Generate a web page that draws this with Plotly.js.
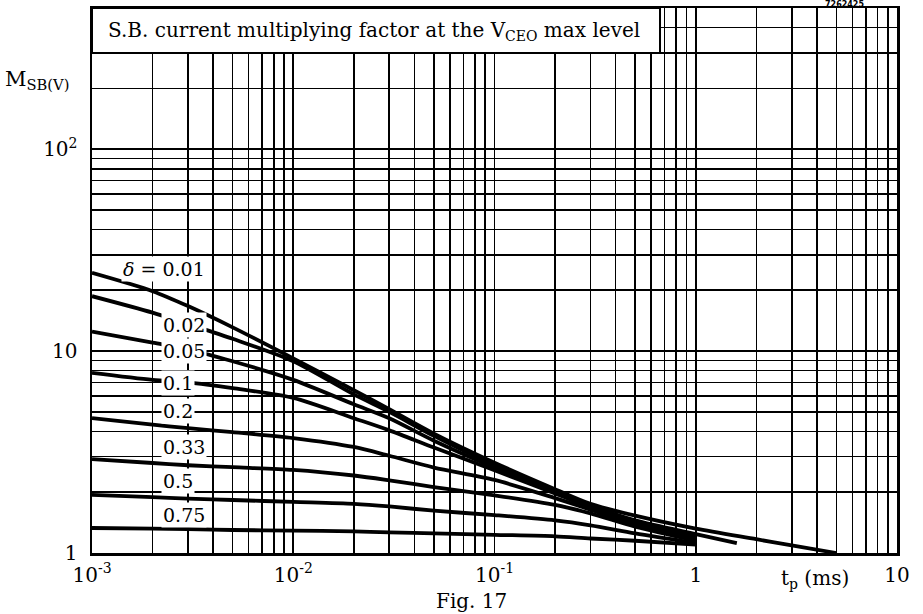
<!DOCTYPE html>
<html><head><meta charset="utf-8">
<script src="https://cdn.plot.ly/plotly-3.0.1.min.js"></script>
<style>html,body{margin:0;padding:0;background:#fff}#chart{width:923px;height:614px}</style>
</head><body><div id="chart"></div>
<script>
// pulse duration tp (ms)
const tpMain = [0.001, 0.002, 0.003, 0.005, 0.01, 0.02, 0.03, 0.05, 0.1, 0.2, 0.3, 0.5, 1];
const tp002 = [0.001, 0.002, 0.003, 0.005, 0.01, 0.02, 0.03, 0.05, 0.1, 0.2, 0.3, 0.5, 1, 1.6];
const tp001 = [0.001, 0.002, 0.003, 0.005, 0.01, 0.02, 0.03, 0.05, 0.1, 0.2, 0.3, 0.5, 1, 2, 3, 5];

// M_SB(V) for each duty factor delta
const m001 = [24.4, 19.8, 16.7, 13.1, 9.2, 6.4, 5.15, 3.9, 2.8, 2.07, 1.75, 1.53, 1.32, 1.17, 1.09, 1.0];
const m002 = [18.7, 15.5, 13.6, 11.5, 8.9, 6.1, 5.0, 3.8, 2.72, 2.03, 1.72, 1.45, 1.24, 1.12];
const m005 = [12.5, 11.0, 10.2, 8.9, 7.2, 5.45, 4.65, 3.6, 2.65, 2.0, 1.7, 1.42, 1.22];
const m01  = [7.8, 7.2, 7.0, 6.55, 5.86, 4.65, 4.05, 3.33, 2.57, 1.97, 1.68, 1.4, 1.2];
const m02  = [4.66, 4.32, 4.15, 3.97, 3.71, 3.35, 3.03, 2.65, 2.3, 1.87, 1.64, 1.38, 1.18];
const m033 = [2.92, 2.79, 2.72, 2.66, 2.58, 2.42, 2.29, 2.12, 1.93, 1.73, 1.57, 1.35, 1.15];
const m05  = [1.94, 1.89, 1.86, 1.83, 1.79, 1.75, 1.70, 1.62, 1.54, 1.45, 1.37, 1.25, 1.12];
const m075 = [1.33, 1.32, 1.315, 1.30, 1.29, 1.28, 1.265, 1.25, 1.23, 1.21, 1.18, 1.15, 1.10];

const deltaLabels = ['<i>δ</i> = 0.01', '0.02', '0.05', '0.1', '0.2', '0.33', '0.5', '0.75'];

// major ticks (labelled) and minor grid values
const xTickVals = [0.001, 0.01, 0.1, 1, 10];
const xTickText = ['10<sup>-3</sup>', '10<sup>-2</sup>', '10<sup>-1</sup>', '1', '10'];
const xMinorVals = [0.002,0.003,0.004,0.005,0.006,0.007,0.008,0.009,
                    0.02,0.03,0.04,0.05,0.06,0.07,0.08,0.09,
                    0.2,0.3,0.4,0.5,0.6,0.7,0.8,0.9,
                    2,3,4,5,6,7,8,9];
const yTickVals = [1, 10, 100];
const yTickText = ['1', '10', '10<sup>2</sup>'];
const yMinorVals = [2,3,4,5,6,7,8,9,20,30,40,50,60,70,80,90,200,300,400,500];

const series = [
  [tp001, m001], [tp002, m002], [tpMain, m005], [tpMain, m01],
  [tpMain, m02], [tpMain, m033], [tpMain, m05], [tpMain, m075]
];
const traces = series.map((s, i) => ({
  x: s[0], y: s[1], type: 'scatter', mode: 'lines', name: deltaLabels[i],
  line: {color: '#000', width: 3.8, shape: 'spline', smoothing: 0.8},
  hoverinfo: 'skip'
}));

// label anchor positions (tp, M) for the delta labels
const labelPos = [[0.00228, 25.4], [0.0022, 13.5], [0.0022, 10.06], [0.0022, 6.98],
                  [0.0022, 5.07], [0.0022, 3.36], [0.0022, 2.28], [0.0022, 1.54]];
const fontFam = 'DejaVu Serif, Liberation Serif, serif';
const annotations = deltaLabels.map((t, i) => ({
  x: Math.log10(labelPos[i][0]), y: Math.log10(labelPos[i][1]), xref: 'x', yref: 'y',
  text: t, showarrow: false, xanchor: i === 0 ? 'center' : 'left', yanchor: 'middle',
  bgcolor: '#fff', borderpad: 1, font: {family: fontFam, size: 19, color: '#000'}
}));
annotations.push(
  {xref: 'paper', yref: 'paper', x: 0.0174, y: 0.958, xanchor: 'left', yanchor: 'middle', showarrow: false,
   text: 'S.B. current multiplying factor at the V<sub>CEO</sub> max level', font: {family: fontFam, size: 20, color: '#000'}},
  {xref: 'paper', yref: 'paper', x: -0.068, y: 0.868, xanchor: 'center', yanchor: 'middle', showarrow: false,
   text: 'M<sub>SB(V)</sub>', font: {family: fontFam, size: 21, color: '#000'}},
  {xref: 'paper', yref: 'paper', x: 0.898, y: -0.048, xanchor: 'center', yanchor: 'middle', showarrow: false,
   text: 't<sub>p</sub> (ms)', font: {family: fontFam, size: 20, color: '#000'}},
  {xref: 'paper', yref: 'paper', x: 0.472, y: -0.088, xanchor: 'center', yanchor: 'middle', showarrow: false,
   text: 'Fig. 17', font: {family: fontFam, size: 20, color: '#000'}},
  {xref: 'paper', yref: 'paper', x: 0.935, y: 1.007, xanchor: 'center', yanchor: 'middle', showarrow: false,
   text: '<b>7262425</b>', font: {family: 'DejaVu Sans', size: 8, color: '#000'}}
);

const gridStyle = {showgrid: true, gridcolor: '#000', gridwidth: 1.6, ticks: ''};
const axisCommon = Object.assign({
  type: 'log', tickmode: 'array',
  showline: true, linecolor: '#000', linewidth: 2.5, mirror: true, zeroline: false,
  tickfont: {family: fontFam, size: 20, color: '#000'}, fixedrange: true
}, gridStyle);

const layout = {
  width: 923, height: 614,
  margin: {l: 92, r: 26, t: 8, b: 61},
  paper_bgcolor: '#fff', plot_bgcolor: '#fff', showlegend: false,
  font: {family: fontFam, size: 20, color: '#000'},
  xaxis: Object.assign({}, axisCommon, {range: [-3, 1], tickvals: xTickVals, ticktext: xTickText, ticklabelstandoff: 2,
    minor: Object.assign({tickmode: 'array', tickvals: xMinorVals}, gridStyle)}),
  yaxis: Object.assign({}, axisCommon, {range: [0, Math.log10(500)], tickvals: yTickVals, ticktext: yTickText, ticklabelstandoff: 8,
    minor: Object.assign({tickmode: 'array', tickvals: yMinorVals}, gridStyle)}),
  shapes: [{type: 'rect', xref: 'paper', yref: 'paper', x0: 0, x1: 0.7056, y0: 0.9174, y1: 1,
            fillcolor: '#fff', line: {color: '#000', width: 2}, layer: 'above'}],
  annotations: annotations
};

Plotly.newPlot('chart', traces, layout, {displayModeBar: false, staticPlot: true});
</script>
</body></html>
